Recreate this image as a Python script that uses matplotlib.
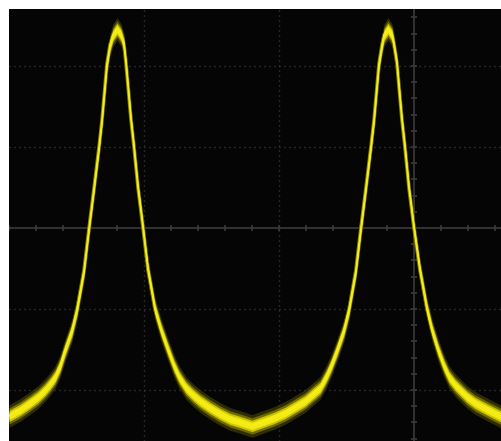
import numpy as np
import matplotlib
matplotlib.use("Agg")
import matplotlib.pyplot as plt

# trace, in divisions (x: time div, y: volt div)
t_div = [-3.000, -2.919, -2.844, -2.785, -2.733, -2.696, -2.659, -2.622, -2.585, -2.533,
         -2.496, -2.444, -2.407, -2.370, -2.333, -2.311, -2.274, -2.252, -2.230, -2.200,
         -2.170, -2.148, -2.133, -2.096, -2.074, -2.044, -2.007, -1.970, -1.919, -1.874,
         -1.822, -1.778, -1.741, -1.689, -1.637, -1.585, -1.511, -1.437, -1.363, -1.289,
         -1.200, -1.119, -1.037, -0.956, -0.881, -0.807, -0.748, -0.696, -0.652, -0.615,
         -0.570, -0.519, -0.481, -0.430, -0.393, -0.356, -0.319, -0.296, -0.259, -0.237,
         -0.222, -0.193, -0.163, -0.148, -0.126, -0.089, -0.067, -0.037, 0.000, 0.044,
         0.096, 0.133, 0.178, 0.222, 0.259, 0.304, 0.341, 0.393, 0.452, 0.563,
         0.652]
v_div = [-2.321, -2.247, -2.160, -2.086, -2.000, -1.926, -1.840, -1.704, -1.506, -1.259,
         -1.000, -0.519, 0.000, 0.494, 1.000, 1.333, 2.031, 2.259, 2.383, 2.457,
         2.383, 2.259, 2.031, 1.333, 1.000, 0.494, 0.000, -0.519, -1.000, -1.259,
         -1.506, -1.704, -1.840, -1.975, -2.062, -2.136, -2.222, -2.296, -2.358, -2.395,
         -2.444, -2.395, -2.346, -2.284, -2.210, -2.136, -2.049, -1.975, -1.840, -1.704,
         -1.506, -1.259, -1.000, -0.519, 0.000, 0.494, 1.000, 1.333, 2.031, 2.259,
         2.383, 2.457, 2.383, 2.259, 2.031, 1.333, 1.000, 0.494, 0.000, -0.519,
         -1.000, -1.259, -1.506, -1.704, -1.840, -1.938, -2.000, -2.086, -2.160, -2.259,
         -2.333]

t = np.array(t_div)
v = np.array(v_div)

fig = plt.figure(figsize=(5.02, 4.41), dpi=100)
fig.patch.set_facecolor("white")
ax = fig.add_axes([9 / 502, 0, 493 / 502, 432 / 441])
ax.set_facecolor("#050505")
ax.set_xlim(-3.0, 0.652)
ax.set_ylim(-2.630, 2.704)
for s in ax.spines.values():
    s.set_visible(False)
ax.set_xticks([])
ax.set_yticks([])

# dotted graticule
grid_c = "#4a4a4a"
for gx in [-2, -1]:
    ax.axvline(gx, color=grid_c, lw=1.0, ls=(0, (0.7, 2.9)), zorder=1)
for gy in [-2, -1, 1, 2]:
    ax.axhline(gy, color=grid_c, lw=1.0, ls=(0, (0.7, 2.9)), zorder=1)

# centre axes with minor ticks
axis_c = "#3a3a3a"
ax.axhline(0, color=axis_c, lw=1.2, zorder=1)
ax.axvline(0, color=axis_c, lw=1.2, zorder=1)
xt = np.arange(-3.0, 0.7, 0.2)
yt = np.arange(-2.6, 2.7, 0.2)
ax.plot(xt, np.zeros_like(xt), ls="none", marker="|", ms=5, mew=1.2, color=axis_c, zorder=1)
ax.plot(np.zeros_like(yt), yt, ls="none", marker="_", ms=5, mew=1.2, color=axis_c, zorder=1)

# phosphor trace: dark rim, halo bands, bright core
ax.plot(t, v, color="#8a8400", lw=2.6, solid_joinstyle="round", zorder=2)
ax.fill_between(t, v - 0.14, v + 0.14, color="#4a4700", alpha=0.6, lw=0, zorder=3)
ax.fill_between(t, v - 0.10, v + 0.10, color="#8c8600", alpha=0.7, lw=0, zorder=4)
ax.fill_between(t, v - 0.07, v + 0.07, color="#d6ce00", alpha=0.9, lw=0, zorder=5)
ax.fill_between(t, v - 0.045, v + 0.045, color="#f2ea10", lw=0, zorder=6)
ax.plot(t, v, color="#f4ee1c", lw=1.3, solid_joinstyle="round", zorder=7)

fig.savefig("out.png", dpi=100, facecolor="white")
